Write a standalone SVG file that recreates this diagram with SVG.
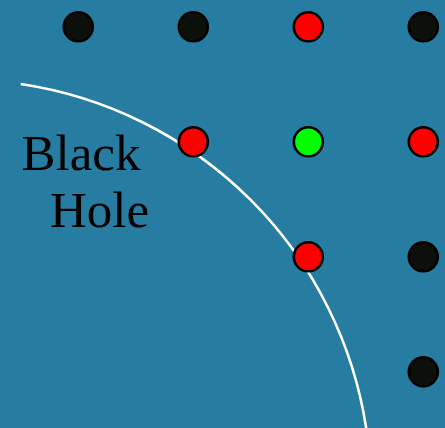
<svg xmlns="http://www.w3.org/2000/svg" width="445" height="428" viewBox="0 0 445 428">
  <style>
    .dot { stroke: #000; stroke-width: 2.6; }
    .blk { fill: #0b100b; }
    .red { fill: #ff0000; }
    .grn { fill: #00ff00; }
    .lbl { font-family: "Liberation Serif", "Times New Roman", serif; font-size: 51px; fill: #000; }
  </style>
  <rect x="0" y="0" width="445" height="428" fill="#267ca1"/>
  <g id="connectors">
    <path d="M 20.7 84 A 411 411 0 0 1 366.5 430" fill="none" stroke="#ffffff" stroke-width="2.6"/>
  </g>
  <g id="label">
    <text class="lbl" x="21.5" y="170">Black</text>
    <text class="lbl" x="50" y="227">Hole</text>
  </g>
  <g id="n00"><circle class="dot blk" cx="78.3" cy="26.8" r="14.5"/></g>
  <g id="n01"><circle class="dot blk" cx="193.3" cy="26.8" r="14.5"/></g>
  <g id="n02"><circle class="dot red" cx="308.3" cy="26.8" r="14.5"/></g>
  <g id="n03"><circle class="dot blk" cx="423.3" cy="26.8" r="14.5"/></g>
  <g id="n11"><circle class="dot red" cx="193.3" cy="141.8" r="14.5"/></g>
  <g id="n12"><circle class="dot grn" cx="308.3" cy="141.8" r="14.5"/></g>
  <g id="n13"><circle class="dot red" cx="423.3" cy="141.8" r="14.5"/></g>
  <g id="n22"><circle class="dot red" cx="308.3" cy="256.8" r="14.5"/></g>
  <g id="n23"><circle class="dot blk" cx="423.3" cy="256.8" r="14.5"/></g>
  <g id="n33"><circle class="dot blk" cx="423.3" cy="371.8" r="14.5"/></g>
</svg>
